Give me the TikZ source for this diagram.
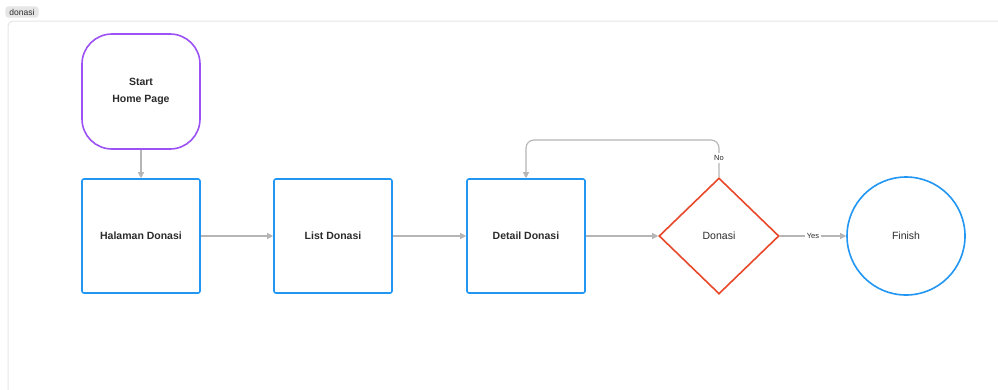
\documentclass[tikz,border=0pt]{standalone}
\usepackage{fontspec}
\setmainfont{Liberation Sans}
\usetikzlibrary{shapes.geometric,arrows.meta}
\definecolor{purp}{HTML}{9B51F5}
\definecolor{blu}{HTML}{2196F3}
\definecolor{redo}{HTML}{E8482A}
\definecolor{conn}{HTML}{B5B5B5}
\definecolor{txt}{HTML}{2B2B2B}
\definecolor{frm}{HTML}{E6E6E6}
\tikzset{
  every node/.style={text=txt, font=\fontsize{10.5}{13}\selectfont},
  procbox/.style={draw=blu, line width=1.6pt, rounded corners=2pt, minimum width=118pt, minimum height=114pt, inner sep=0pt, font=\bfseries\fontsize{10.5}{13}\selectfont},
  startbox/.style={draw=purp, line width=1.6pt, rounded corners=30pt, minimum width=118pt, minimum height=115pt, align=center, inner sep=0pt, font=\bfseries\fontsize{10.5}{17}\selectfont},
  decision/.style={diamond, draw=redo, line width=1.6pt, minimum width=120pt, minimum height=116pt, inner sep=0pt, aspect=1.03},
  endcircle/.style={circle, draw=blu, line width=1.6pt, minimum size=118pt, inner sep=0pt},
  link/.style={draw=conn, line width=1.1pt, -{Triangle[length=6pt,width=6pt]}},
  lbl/.style={fill=white, inner sep=2pt, font=\fontsize{7.5}{8}\selectfont}
}
\begin{document}
\begin{tikzpicture}[x=1pt,y=-1pt]
\useasboundingbox (0,0) rectangle (998,389);
\fill[white] (0,0) rectangle (998,389);
% frame
\draw[frm, line width=1pt, rounded corners=5pt] (1010,21) -- (8,21) -- (8,400);
\node[fill=frm, rounded corners=3pt, inner xsep=4pt, inner ysep=2.5pt, font=\fontsize{8.5}{10}\selectfont] (tab) at (22,12) {donasi};
% nodes
\node[startbox] (start) at (141,91.5) {Start\\Home Page};
\node[procbox] (hal) at (141,236) {Halaman Donasi};
\node[procbox] (list) at (333,236) {List Donasi};
\node[procbox] (det) at (526,236) {Detail Donasi};
\node[decision] (dec) at (719,236) {Donasi};
\node[endcircle] (fin) at (906,236) {Finish};
% connectors
\draw[link] (start) -- (hal);
\draw[link] (hal) -- (list);
\draw[link] (list) -- (det);
\draw[link] (det) -- (dec);
\draw[link] (dec.east) -- node[lbl] {Yes} (fin.west);
\draw[link, rounded corners=8pt] (dec.north) -- (dec.north |- 0,140) -- (det.north |- 0,140) -- (det.north);
\node[lbl] (no) at (719,158) {No};
\end{tikzpicture}
\end{document}
